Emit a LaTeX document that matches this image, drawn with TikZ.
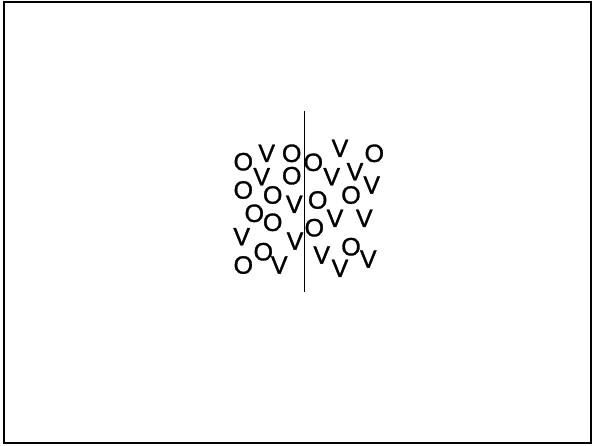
\documentclass[tikz,border=0pt]{standalone}
\usepackage{fontspec}
\setmainfont{Liberation Sans}
\newfontfamily\ltrfont[FakeBold=1.2]{Liberation Sans}
\begin{document}
\begin{tikzpicture}[x=1pt,y=-1pt,
  ltr/.style={inner sep=0pt,font=\ltrfont\fontsize{25}{25}\selectfont,anchor=center}]
\useasboundingbox (0,0) rectangle (592,445);
\draw[line width=2pt] (3.5,2) rectangle (591,443);
\coordinate (top) at (304.3,111);
\coordinate (bot) at (304.3,292);
\draw[line width=0.9pt] (top) -- (bot);
% left side
\node[ltr] (a1) at (243.3,161.7) {O};
\node[ltr] (a2) at (266.7,153.3) {V};
\node[ltr] (a3) at (291.7,153.3) {O};
\node[ltr] (a4) at (261.7,176.7) {V};
\node[ltr] (a5) at (291.7,175.7) {O};
\node[ltr] (a6) at (243.3,190) {O};
\node[ltr] (a7) at (272.7,195) {O};
\node[ltr] (a8) at (294.3,204.3) {V};
\node[ltr] (a9) at (254.3,213.3) {O};
\node[ltr] (a10) at (272.7,222.3) {O};
\node[ltr] (a11) at (241.7,236.7) {V};
\node[ltr] (a12) at (295,241) {V};
\node[ltr] (a13) at (263.3,251.7) {O};
\node[ltr] (a14) at (243.3,265) {O};
\node[ltr] (a15) at (279.3,265) {V};
% right side
\node[ltr] (b1) at (340,148.3) {V};
\node[ltr] (b2) at (374.3,153.3) {O};
\node[ltr] (b3) at (313.3,162.3) {O};
\node[ltr] (b4) at (331.7,176.7) {V};
\node[ltr] (b5) at (355,171.7) {V};
\node[ltr] (b6) at (371.7,185) {V};
\node[ltr] (b7) at (317.7,200) {O};
\node[ltr] (b8) at (351,195) {O};
\node[ltr] (b9) at (335,218.3) {V};
\node[ltr] (b10) at (364.3,218.3) {V};
\node[ltr] (b11) at (314.3,227.7) {O};
\node[ltr] (b12) at (321.7,255) {V};
\node[ltr] (b13) at (351,246.7) {O};
\node[ltr] (b14) at (340,268.3) {V};
\node[ltr] (b15) at (368.3,259) {V};
\end{tikzpicture}
\end{document}
